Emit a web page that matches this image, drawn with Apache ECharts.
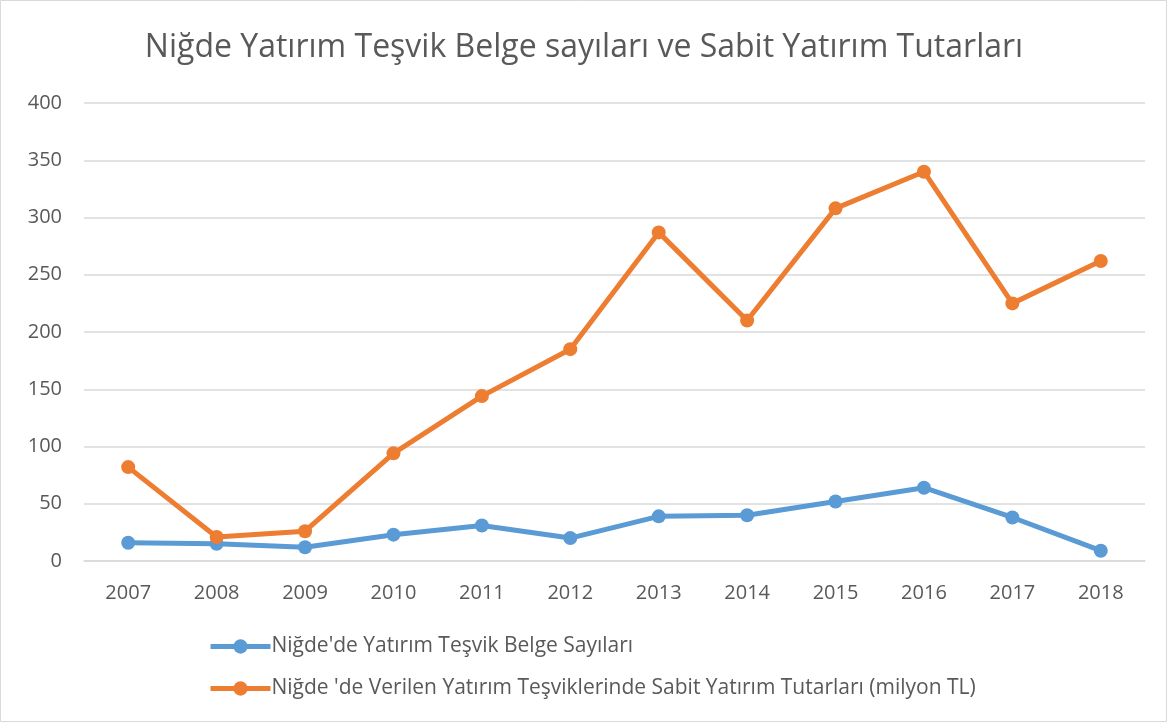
<!DOCTYPE html>
<html><head><meta charset="utf-8">
<script src="https://cdn.jsdelivr.net/npm/echarts@6/dist/echarts.min.js"></script>
<style>html,body{margin:0;padding:0;background:#fff}#c{width:1168px;height:722px}</style>
</head><body><div id="c"></div>
<script>
const years = ['2007','2008','2009','2010','2011','2012','2013','2014','2015','2016','2017','2018'];
const belgeSayilari = [16, 15, 12, 23, 31, 20, 39, 40, 52, 64, 38, 9];
const sabitYatirim = [82, 21, 26, 94, 144, 185, 287, 210, 308, 340, 225, 262];
const yTicks = [0, 50, 100, 150, 200, 250, 300, 350, 400];
const seriesNames = ["Niğde'de Yatırım Teşvik Belge Sayıları", "Niğde 'de Verilen Yatırım Teşviklerinde Sabit Yatırım Tutarları (milyon TL)"];

const chart = echarts.init(document.getElementById('c'));
const font = "'Open Sans', 'Noto Sans', sans-serif";
chart.setOption({
  animation: false,
  graphic: [{type:'rect', shape:{x:0.5,y:0.5,width:1166,height:721}, style:{fill:'none', stroke:'#D9D9D9', lineWidth:1}}],
  title: {text: 'Niğde Yatırım Teşvik Belge sayıları ve Sabit Yatırım Tutarları', left: 'center', top: 27,
    textStyle: {fontFamily: font, fontWeight: 'normal', fontSize: 32, color: '#595959'}},
  grid: {left: 84, right: 23, top: 103, bottom: 161},
  xAxis: {type: 'category', data: years, boundaryGap: true,
    axisLine: {lineStyle: {color: '#D9D9D9', width: 1.5}}, axisTick: {show: false},
    axisLabel: {fontFamily: font, fontSize: 20, color: '#595959', margin: 22}},
  yAxis: {type: 'value', min: yTicks[0], max: yTicks[yTicks.length-1], interval: 50,
    axisLine: {show: false}, axisTick: {show: false},
    splitLine: {lineStyle: {color: '#D9D9D9', width: 1.5}},
    axisLabel: {fontFamily: font, fontSize: 20, color: '#595959', margin: 22}},
  legend: {orient: 'vertical', left: 203, top: 631, itemGap: 21, itemWidth: 60, itemHeight: 18,
    lineStyle: {width: 5},
    textStyle: {fontFamily: font, fontSize: 21, color: '#595959', padding: [0,0,0,-4]},
    data: seriesNames},
  series: [
    {name: seriesNames[0], type: 'line', data: belgeSayilari, symbol: 'circle', symbolSize: 14,
      lineStyle: {width: 5, color: '#5B9BD5'}, itemStyle: {color: '#5B9BD5'}},
    {name: seriesNames[1], type: 'line', data: sabitYatirim, symbol: 'circle', symbolSize: 14,
      lineStyle: {width: 5, color: '#ED7D31'}, itemStyle: {color: '#ED7D31'}}
  ]
});
</script></body></html>
